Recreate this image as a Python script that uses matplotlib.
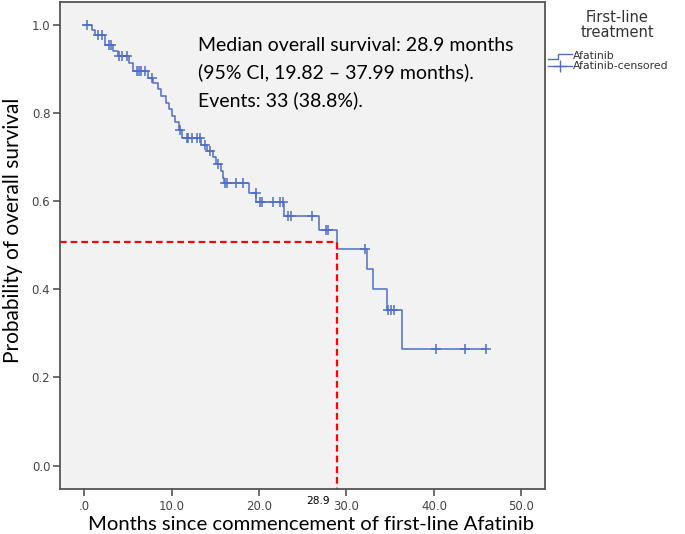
import numpy as np
import matplotlib
matplotlib.use("Agg")
import matplotlib.pyplot as plt
from matplotlib.lines import Line2D
from matplotlib.legend_handler import HandlerBase

# step times (months) and survival after each drop
event_times = [0.9, 1.2, 2.4, 3.3, 3.8, 5.1, 5.6, 7.3, 7.9, 8.4, 8.8, 9.3, 9.7,
               10.0, 10.4, 10.8, 11.2, 13.4, 14.0, 14.7, 15.1, 15.6, 15.9, 16.0,
               18.8, 19.7, 22.9, 26.8, 28.9, 32.3, 33.0, 34.6, 36.4]
surv_levels = [0.988, 0.976, 0.953, 0.941, 0.929, 0.912, 0.894, 0.879, 0.867,
               0.853, 0.838, 0.823, 0.808, 0.793, 0.778, 0.762, 0.743, 0.728,
               0.714, 0.700, 0.684, 0.667, 0.652, 0.641, 0.618, 0.597, 0.567,
               0.535, 0.492, 0.446, 0.401, 0.353, 0.264]
censor_times = [0.3, 1.6, 2.0, 2.8, 3.0, 4.0, 4.35, 4.85, 6.0, 6.3, 6.5, 6.9,
                7.7, 10.95, 11.7, 11.9, 12.3, 12.9, 13.2, 13.8, 14.4, 15.3,
                16.1, 16.3, 17.4, 18.2, 19.6, 20.1, 20.3, 21.6, 22.4, 22.7,
                23.3, 23.6, 26.0, 27.7, 27.9, 32.1, 34.8, 35.1, 35.4, 40.2,
                43.6, 46.0]
median_time = 28.9
median_level = 0.507

blue = "#4f6fc6"

t_all = np.array([0.0] + event_times)
s_all = np.array([1.0] + surv_levels)
idx = np.searchsorted(t_all, censor_times, side="right") - 1
censor_levels = s_all[idx]

fig = plt.figure(figsize=(6.85, 5.34), dpi=100)
ax = fig.add_axes([0.0876, 0.0843, 0.7085, 0.9127])
ax.set_facecolor("#f2f2f2")

# KM curve
ax.step(np.append(t_all, censor_times[-1]), np.append(s_all, s_all[-1]),
        where="post", color=blue, lw=1.1)
ax.plot(censor_times, censor_levels, ls="none", marker="+", ms=7, mew=1.1,
        color=blue)

# median markers
x0 = -2.78
ax.plot([x0, median_time, median_time], [median_level, median_level, -0.0529],
        color="red", ls=(0, (3, 1.8)), lw=1.6, clip_on=False)
ax.text(26.7, -0.08, "28.9", ha="center", va="center", fontsize=7.7,
        color="black", clip_on=False)

ax.text(13.0, 0.891, "Median overall survival: 28.9 months\n"
        "(95% CI, 19.82 \u2013 37.99 months).\nEvents: 33 (38.8%).",
        ha="left", va="center", fontsize=14, family="Lato", linespacing=1.65)

ax.set_xlim(x0, 52.75)
ax.set_ylim(-0.0529, 1.052)
ax.set_xticks([0, 10, 20, 30, 40, 50])
ax.set_xticklabels([".0", "10.0", "20.0", "30.0", "40.0", "50.0"])
ax.set_yticks([0, 0.2, 0.4, 0.6, 0.8, 1.0])
ax.set_yticklabels(["0.0", "0.2", "0.4", "0.6", "0.8", "1.0"])
ax.tick_params(length=5, width=1.2, color="#555555", labelcolor="#444444",
               labelsize=8.5)
ax.tick_params(axis="x", pad=3)
ax.tick_params(axis="y", pad=2)
for sp in ax.spines.values():
    sp.set_color("#555555")
    sp.set_linewidth(1.3)

ax.set_xlabel("Months since commencement of first-line Afatinib",
              fontsize=14.6, family="Lato", va="baseline")
ax.set_ylabel("Probability of overall survival", fontsize=15, family="Lato")
ax.xaxis.set_label_coords(0.518, -0.085)
ax.yaxis.set_label_coords(-0.076, 0.53)


class StepHandler(HandlerBase):
    def create_artists(self, legend, orig_handle, xdescent, ydescent,
                       width, height, fontsize, trans):
        xs = np.array([0, 0.45, 0.45, 1.0]) * width - xdescent
        ys = np.array([0.1, 0.1, 0.7, 0.7]) * height - ydescent
        return [Line2D(xs, ys, color=blue, lw=1.0, transform=trans)]


h1 = Line2D([], [], color=blue, lw=1.0)
h2 = Line2D([], [], color=blue, lw=1.0, marker="+", ms=9, mew=1.0)
leg = ax.legend([h1, h2], ["Afatinib", "Afatinib-censored"],
                loc="upper left", bbox_to_anchor=(1.005, 0.898), frameon=False,
                handler_map={h1: StepHandler()}, handlelength=2.2,
                handletextpad=0.1, borderaxespad=0.0, borderpad=0.0,
                labelspacing=0.0, prop={"size": 7.8})
for t in leg.get_texts():
    t.set_color("#333333")
ax.text(1.148, 0.952, "First-line\ntreatment", transform=ax.transAxes,
        ha="center", va="center", fontsize=10.5, color="#333333",
        linespacing=0.95)

fig.savefig("out.png", dpi=100)
